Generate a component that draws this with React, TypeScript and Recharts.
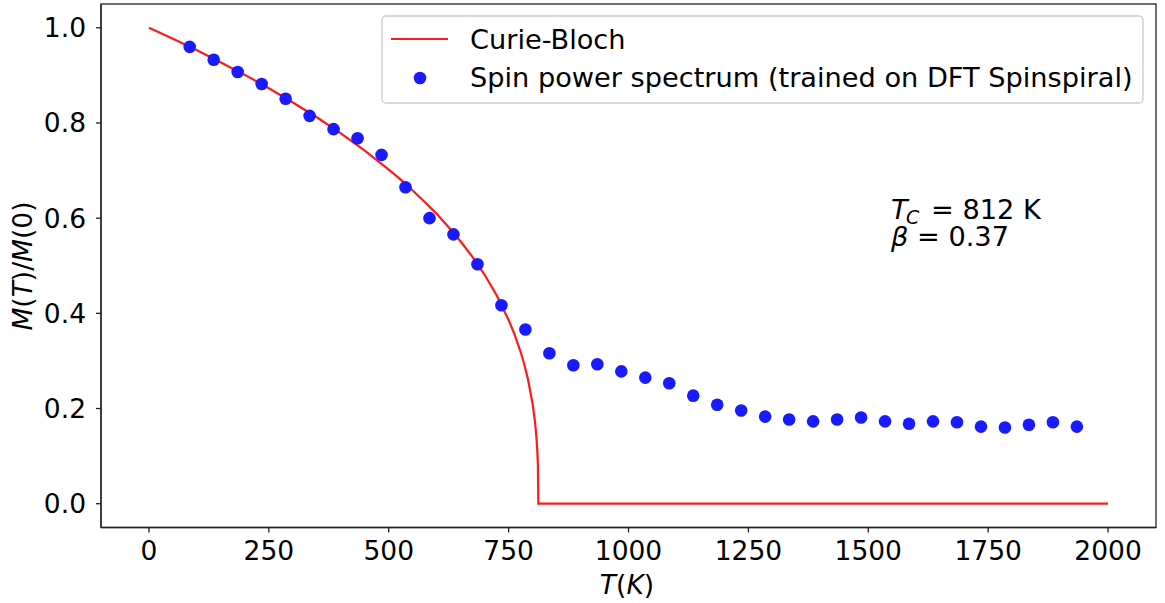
import React from "react";
import {
  ComposedChart,
  Line,
  Scatter,
  XAxis,
  YAxis,
  Customized,
} from "recharts";

const sampleTemps = [
  85, 135, 185, 235, 285, 335, 385, 435, 485, 535, 585, 635, 685, 735, 785,
  835, 885, 935, 985, 1035, 1085, 1135, 1185, 1235, 1285, 1335, 1385, 1435,
  1485, 1535, 1585, 1635, 1685, 1735, 1785, 1835, 1885, 1935,
];
const sampleMag = [
  0.96, 0.933, 0.907, 0.882, 0.851, 0.815, 0.787, 0.768, 0.733, 0.665, 0.6,
  0.566, 0.503, 0.417, 0.366, 0.316, 0.291, 0.293, 0.278, 0.265, 0.253, 0.227,
  0.208, 0.196, 0.183, 0.177, 0.173, 0.177, 0.181, 0.173, 0.168, 0.173, 0.171,
  0.162, 0.16, 0.166, 0.171, 0.162,
];

const curveTemps = [
  0, 50, 100, 150, 200, 250, 300, 350, 400, 450, 500, 525, 550, 575, 600, 625,
  650, 675, 700, 725, 750, 762, 775, 782, 790, 800, 805, 808, 810, 811, 812,
  2000,
];
const curveMag = [
  1.0, 0.977, 0.953, 0.927, 0.901, 0.873, 0.843, 0.812, 0.778, 0.742, 0.702,
  0.681, 0.658, 0.634, 0.609, 0.581, 0.551, 0.518, 0.481, 0.438, 0.386, 0.357,
  0.319, 0.295, 0.263, 0.21, 0.172, 0.14, 0.108, 0.084, 0, 0,
];

const xTicks = [0, 250, 500, 750, 1000, 1250, 1500, 1750, 2000];
const yTicks = [0, 0.2, 0.4, 0.6, 0.8, 1.0];

const legendLabels = [
  "Curie-Bloch",
  "Spin power spectrum (trained on DFT Spinspiral)",
];

const curveData = curveTemps.map((t, i) => ({ x: t, y: curveMag[i] }));
const sampleData = sampleTemps.map((t, i) => ({ x: t, y: sampleMag[i] }));

const FONT = "'DejaVu Sans', sans-serif";
const FS = 26.5;
const LFS = 27.2;
const RED = "#ff1a1a";
const BLUE = "#1a1aff";
const AX = "#222222";

const Overlay = () => (
  <g fontFamily={FONT} fontSize={FS} fill="#000">
    {/* axes frame */}
    <rect
      x={101}
      y={4}
      width={1055}
      height={523.5}
      fill="none"
      stroke={AX}
      strokeWidth={1.3}
    />
    {/* legend */}
    <rect
      x={382}
      y={16}
      width={761}
      height={87}
      rx={4}
      ry={4}
      fill="#ffffff"
      fillOpacity={0.8}
      stroke="#cccccc"
      strokeWidth={1.3}
    />
    <line x1={391} y1={39} x2={448} y2={39} stroke={RED} strokeWidth={2.2} />
    <circle cx={420} cy={78} r={6.3} fill={BLUE} />
    <text x={470} y={49} fontSize={LFS}>
      {legendLabels[0]}
    </text>
    <text x={470} y={87} fontSize={LFS}>
      {legendLabels[1]}
    </text>
    {/* annotation */}
    <text x={891} y={219} fontSize={LFS} fontStyle="italic">
      T
    </text>
    <text x={906} y={224} fontSize={19} fontStyle="italic">
      C
    </text>
    <text x={931} y={219} fontSize={LFS}>
      = 812 K
    </text>
    <text x={891} y={246} fontSize={LFS}>
      <tspan fontStyle="italic">β</tspan>
      <tspan> = 0.37</tspan>
    </text>
    {/* axis labels */}
    <text x={627} y={594} textAnchor="middle">
      <tspan fontStyle="italic">T</tspan>
      <tspan>(</tspan>
      <tspan fontStyle="italic">K</tspan>
      <tspan>)</tspan>
    </text>
    <text
      x={32}
      y={266}
      textAnchor="middle"
      transform="rotate(-90 32 266)"
    >
      <tspan fontStyle="italic">M</tspan>
      <tspan>(</tspan>
      <tspan fontStyle="italic">T</tspan>
      <tspan>)/</tspan>
      <tspan fontStyle="italic">M</tspan>
      <tspan>(0)</tspan>
    </text>
  </g>
);

export default function App() {
  return (
    <div style={{ position: "absolute", left: 0, top: 0, background: "#fff" }}>
      <ComposedChart
        width={1165}
        height={603}
        margin={{ top: 4, right: 9, bottom: 0, left: 0 }}
      >
        <XAxis
          dataKey="x"
          type="number"
          domain={[-100, 2100]}
          ticks={xTicks}
          allowDataOverflow
          height={75.5}
          tickSize={5}
          tickMargin={9}
          stroke={AX}
          strokeWidth={1.3}
          tick={{ fill: "#000", fontSize: FS, fontFamily: FONT }}
          tickLine={{ stroke: AX, strokeWidth: 1.3 }}
        />
        <YAxis
          dataKey="y"
          type="number"
          domain={[-0.05, 1.05]}
          ticks={yTicks}
          allowDataOverflow
          width={101}
          tickSize={5}
          tickMargin={10}
          stroke={AX}
          strokeWidth={1.3}
          tickFormatter={(v: number) => v.toFixed(1)}
          tick={{ fill: "#000", fontSize: FS, fontFamily: FONT }}
          tickLine={{ stroke: AX, strokeWidth: 1.3 }}
        />
        <Line
          data={curveData}
          dataKey="y"
          type="linear"
          stroke={RED}
          strokeWidth={2.2}
          dot={false}
          activeDot={false}
          isAnimationActive={false}
        />
        <Scatter
          data={sampleData}
          dataKey="y"
          fill={BLUE}
          shape={(p: any) => <circle cx={p.cx} cy={p.cy} r={6.3} fill={BLUE} />}
          isAnimationActive={false}
        />
        <Customized component={Overlay} />
      </ComposedChart>
    </div>
  );
}
